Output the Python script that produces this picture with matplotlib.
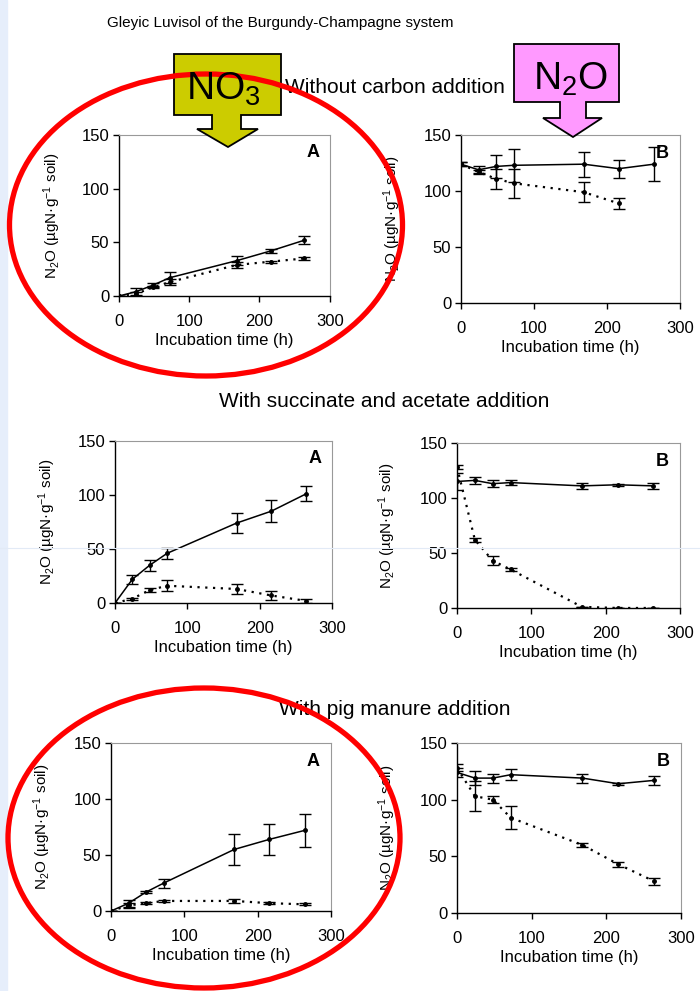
import numpy as np
import matplotlib.pyplot as plt
from matplotlib.patches import Ellipse, Polygon, Rectangle

plt.rcParams['font.family'] = ['Liberation Sans', 'DejaVu Sans']
plt.rcParams['mathtext.fontset'] = 'custom'
plt.rcParams['mathtext.rm'] = 'Liberation Sans'
plt.rcParams['mathtext.it'] = 'Liberation Sans:italic'

# incubation times (h)
t = [0, 24, 48, 72, 168, 216, 264]

# without carbon addition
noc_a_solid = [0, 4, 10, 17, 33, 42, 52]
noc_a_solid_err = [0, 3, 2, 5, 4, 2, 4]
noc_a_dot = [0, 2, 8, 13, 29, 32, 35]
noc_a_dot_err = [0, 2, 1, 3, 3, 1, 1]
noc_b_solid = [124, 119, 122, 123, 124, 120, 124]
noc_b_solid_err = [2, 3, 10, 15, 11, 8, 15]
noc_b_dot = [124, 117, 111, 107, 99, 89]
noc_b_dot_err = [2, 2, 9, 13, 9, 5]

# with succinate and acetate addition
sa_a_solid = [0, 22, 35, 46, 74, 85, 101]
sa_a_solid_err = [0, 4, 5, 5, 9, 10, 7]
sa_a_dot = [0, 4, 12, 16, 13, 7, 2]
sa_a_dot_err = [0, 1, 2, 5, 5, 4, 2]
sa_b_solid = [115, 116, 113, 114, 111, 112, 111]
sa_b_solid_err = [8, 3, 3, 2, 3, 1, 3]
sa_b_dot = [128, 62, 43, 35, 1, 0, 0]
sa_b_dot_err = [2, 2, 4, 1, 0, 0, 0]

# with pig manure addition
pm_a_solid = [0, 7, 17, 25, 55, 64, 72]
pm_a_solid_err = [0, 3, 1, 4, 14, 14, 15]
pm_a_dot = [0, 5, 7, 9, 9, 7, 6]
pm_a_dot_err = [0, 2, 1, 1, 2, 1, 1]
pm_b_solid = [124, 119, 119, 122, 119, 114, 117]
pm_b_solid_err = [4, 6, 4, 5, 4, 1, 4]
pm_b_dot = [128, 103, 100, 84, 60, 43, 28]
pm_b_dot_err = [3, 13, 3, 10, 2, 2, 3]

title = 'Gleyic Luvisol of the Burgundy-Champagne system'
subtitles = ['Without carbon addition', 'With succinate and acetate addition',
             'With pig manure addition']

fig = plt.figure(figsize=(7, 9.91), dpi=100)


def panel(rect, ys, es, yd, ed, letter):
    ax = fig.add_axes(rect)
    ax.errorbar(t[:len(ys)], ys, yerr=es, color='k', lw=1.1, marker='o', ms=2.5,
                capsize=4.5, elinewidth=1, capthick=1)
    ax.errorbar(t[:len(yd)], yd, yerr=ed, color='k', lw=1.6, ls=(0, (1, 2.5)),
                marker='o', ms=2.5, capsize=4.5, elinewidth=1, capthick=1)
    ax.set_xlim(0, 300)
    ax.set_ylim(0, 150)
    ax.set_xticks([0, 100, 200, 300])
    ax.set_yticks([0, 50, 100, 150])
    for s in ['top', 'right']:
        ax.spines[s].set_color('#999999')
        ax.spines[s].set_linewidth(0.8)
    for s in ['left', 'bottom']:
        ax.spines[s].set_linewidth(1)
    ax.tick_params(direction='out', length=4, width=1, labelsize=12)
    ax.tick_params(axis='x', pad=9)
    ax.tick_params(axis='y', pad=3)
    ax.set_xlabel('Incubation time (h)', fontsize=12, labelpad=3)
    ax.set_ylabel(r'N$_2$O (µgN·g$^{-1}$ soil)', fontsize=11)
    ax.yaxis.set_label_coords(-0.265, 0.5)
    ax.text(0.92, 0.89, letter, transform=ax.transAxes, ha='center', va='center',
            fontsize=13, fontweight='bold')
    return ax


panel([0.170, 0.7013, 0.301, 0.1625], noc_a_solid, noc_a_solid_err, noc_a_dot, noc_a_dot_err, 'A')
panel([0.6586, 0.6942, 0.3129, 0.1695], noc_b_solid, noc_b_solid_err, noc_b_dot, noc_b_dot_err, 'B')
panel([0.1643, 0.3915, 0.310, 0.1635], sa_a_solid, sa_a_solid_err, sa_a_dot, sa_a_dot_err, 'A')
panel([0.6529, 0.3865, 0.3186, 0.1665], sa_b_solid, sa_b_solid_err, sa_b_dot, sa_b_dot_err, 'B')
panel([0.1586, 0.0807, 0.3143, 0.1695], pm_a_solid, pm_a_solid_err, pm_a_dot, pm_a_dot_err, 'A')
panel([0.6529, 0.0787, 0.3200, 0.1716], pm_b_solid, pm_b_solid_err, pm_b_dot, pm_b_dot_err, 'B')

# overlay in pixel coordinates for titles and slide annotations
ov = fig.add_axes([0, 0, 1, 1], zorder=10)
ov.set_xlim(0, 700)
ov.set_ylim(991, 0)
ov.axis('off')
ov.patch.set_alpha(0)

ov.add_patch(Rectangle((0, 0), 7, 991, color='#e6eefb', zorder=0))
ov.plot([0, 700], [548, 548], color='#e2eaf6', lw=0.8, zorder=0)

ov.text(280, 27, title, ha='center', va='baseline', fontsize=11)
ov.text(505, 93, subtitles[0], ha='right', va='baseline', fontsize=15, zorder=1)
ov.text(384, 407, subtitles[1], ha='center', va='baseline', fontsize=15, zorder=1)
ov.text(395, 715, subtitles[2], ha='center', va='baseline', fontsize=15, zorder=1)

no3 = [(174, 54), (281, 54), (281, 115), (241, 115), (241, 129), (258, 129), (228, 147),
       (197, 129), (212, 129), (212, 115), (174, 115)]
n2o = [(514, 44), (619, 44), (619, 102), (586, 102), (586, 118), (602, 118), (573, 137),
       (543, 118), (560, 118), (560, 102), (514, 102)]
ov.add_patch(Polygon(no3, closed=True, fc='#cccc00', ec='k', lw=1.3, zorder=2))
ov.add_patch(Polygon(n2o, closed=True, fc='#ff99ff', ec='k', lw=1.3, zorder=2))

ov.add_patch(Ellipse((206, 225), 393, 302, fill=False, ec='#ff0000', lw=3.8, zorder=3))
ov.add_patch(Ellipse((204, 838), 392, 300, fill=False, ec='#ff0000', lw=3.8, zorder=3))

ov.text(223, 100, r'NO$_3$', ha='center', va='baseline', fontsize=28, zorder=4)
ov.text(571, 90, r'N$_2$O', ha='center', va='baseline', fontsize=28, zorder=4)

fig.savefig('out.png', dpi=100)
